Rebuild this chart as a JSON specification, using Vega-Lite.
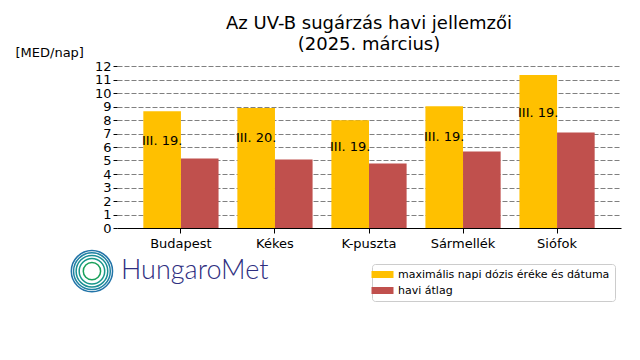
{
  "$schema": "https://vega.github.io/schema/vega-lite/v6.json",
  "autosize": {"type": "none"},
  "padding": {"left": 117, "top": 66, "right": 19, "bottom": 132},
  "width": 504,
  "height": 162,
  "config": {
    "font": "DejaVu Sans",
    "view": {"stroke": null},
    "axis": {"labelColor": "black", "titleColor": "black", "labelFont": "DejaVu Sans", "titleFont": "DejaVu Sans"},
    "axisY": {
      "tickCount": 24, "labelOverlap": false, "format": ".0f",
      "grid": true, "gridDash": [5, 2], "gridColor": "#808080", "gridOpacity": 1, "gridWidth": 1,
      "domain": false, "tickSize": 4, "tickColor": "black",
      "labelFontSize": 13, "labelPadding": 2,
      "titleAngle": 0, "titleAlign": "left", "titleBaseline": "alphabetic",
      "titleX": -102, "titleY": -10, "titleFontSize": 13, "titleFontWeight": "normal"
    }
  },
  "title": {
    "text": ["Az UV-B sugárzás havi jellemzői", "(2025. március)"],
    "anchor": "middle",
    "frame": "group",
    "fontSize": 18,
    "fontWeight": "normal",
    "font": "DejaVu Sans",
    "color": "black",
    "lineHeight": 21,
    "offset": -8
  },
  "data": {
    "values": [
      {"station": "Budapest", "series": "maximális napi dózis éréke és dátuma", "value": 8.64, "date": "III. 19."},
      {"station": "Budapest", "series": "havi átlag", "value": 5.14},
      {"station": "Kékes", "series": "maximális napi dózis éréke és dátuma", "value": 8.89, "date": "III. 20."},
      {"station": "Kékes", "series": "havi átlag", "value": 5.07},
      {"station": "K-puszta", "series": "maximális napi dózis éréke és dátuma", "value": 7.99, "date": "III. 19."},
      {"station": "K-puszta", "series": "havi átlag", "value": 4.77},
      {"station": "Sármellék", "series": "maximális napi dózis éréke és dátuma", "value": 9.02, "date": "III. 19."},
      {"station": "Sármellék", "series": "havi átlag", "value": 5.66},
      {"station": "Siófok", "series": "maximális napi dózis éréke és dátuma", "value": 11.33, "date": "III. 19."},
      {"station": "Siófok", "series": "havi átlag", "value": 7.08}
    ]
  },
  "encoding": {
    "x": {
      "field": "station", "type": "nominal", "sort": null,
      "scale": {"paddingInner": 0.2, "paddingOuter": 0.28},
      "axis": {"title": null, "labelAngle": 0, "labelFontSize": 13, "labelPadding": 4, "tickSize": 5, "tickColor": "black", "domainColor": "black", "tickWidth": 1, "domainWidth": 1, "grid": false}
    }
  },
  "layer": [
    {
      "mark": {"type": "bar"},
      "encoding": {
        "xOffset": {"field": "series", "type": "nominal", "sort": ["maximális napi dózis éréke és dátuma", "havi átlag"], "scale": {"paddingInner": 0, "paddingOuter": 0}},
        "y": {
          "field": "value", "type": "quantitative",
          "scale": {"domain": [0, 12], "nice": false},
          "axis": {"values": [0,1,2,3,4,5,6,7,8,9,10,11,12], "title": "[MED/nap]", "format": ".0f"}
        },
        "color": {
          "field": "series", "type": "nominal",
          "sort": ["maximális napi dózis éréke és dátuma", "havi átlag"],
          "scale": {"domain": ["maximális napi dózis éréke és dátuma", "havi átlag"], "range": ["#FFC000", "#C0504D"]},
          "legend": {
            "title": null, "orient": "none", "legendX": 255, "legendY": 198,
            "symbolType": "M-2,-0.64H2V0.64H-2Z", "symbolSize": 121, "symbolStrokeWidth": 0,
            "labelFontSize": 11, "labelFont": "DejaVu Sans", "labelColor": "black", "labelOffset": 10, "labelLimit": 0,
            "rowPadding": 4, "padding": 5, "strokeColor": "#cccccc", "fillColor": "white", "cornerRadius": 3
          }
        }
      }
    },
    {
      "transform": [
        {"filter": "isValid(datum.date)"},
        {"calculate": "datum.value * 0.75", "as": "labelPos"}
      ],
      "mark": {"type": "text", "fontSize": 13, "color": "black", "align": "center", "baseline": "middle"},
      "encoding": {
        "xOffset": {"field": "series", "type": "nominal", "sort": ["maximális napi dózis éréke és dátuma", "havi átlag"]},
        "y": {
          "field": "labelPos", "type": "quantitative",
          "axis": {"values": [0,1,2,3,4,5,6,7,8,9,10,11,12], "title": "[MED/nap]", "format": ".0f"}
        },
        "text": {"field": "date"}
      }
    },
    {
      "data": {"values": [{"r": 1, "c": "#18a05a"}, {"r": 2, "c": "#17978a"}, {"r": 3, "c": "#1b8f95"}, {"r": 4, "c": "#1f82a3"}, {"r": 5, "c": "#2274a8"}]},
      "mark": {"type": "point", "filled": false, "strokeWidth": 1.5, "xOffset": -89, "opacity": 1},
      "encoding": {
        "x": {"datum": "Budapest"},
        "y": {"datum": -3.2, "axis": {"values": [0,1,2,3,4,5,6,7,8,9,10,11,12], "title": "[MED/nap]", "format": ".0f"}},
        "size": {"field": "r", "type": "quantitative", "scale": {"domain": [1, 5], "range": [300, 1700]}, "legend": null},
        "stroke": {"field": "c", "type": "nominal", "scale": null}
      }
    },
    {
      "data": {"values": [{"logo": "HungaroMet"}]},
      "mark": {"type": "text", "fontSize": 27, "font": "Lato", "fontWeight": 300, "color": "#2e2e80", "align": "left", "baseline": "middle", "dx": -60},
      "encoding": {
        "x": {"datum": "Budapest"},
        "y": {"datum": -3.2, "axis": {"values": [0,1,2,3,4,5,6,7,8,9,10,11,12], "title": "[MED/nap]", "format": ".0f"}},
        "text": {"field": "logo"}
      }
    }
  ]
}
